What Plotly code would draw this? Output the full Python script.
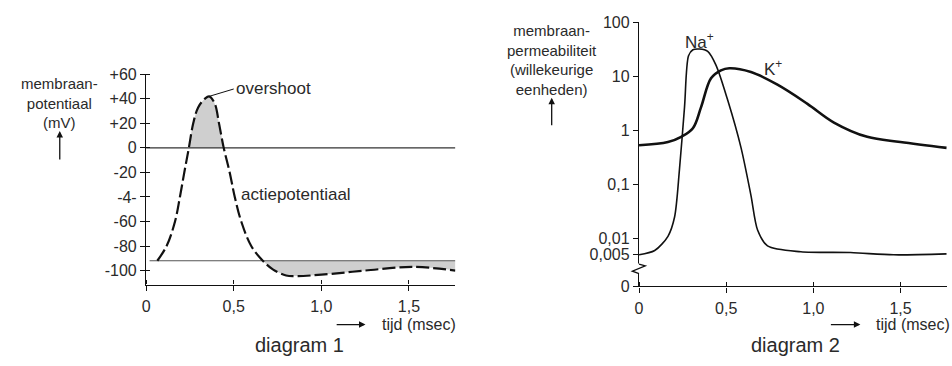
import numpy as np
import plotly.graph_objects as go

# ---------------- data ----------------
# diagram 1: membrane potential (mV) vs time (msec)
T1 = [0.064, 0.117, 0.165, 0.193, 0.218, 0.244, 0.269, 0.297, 0.335, 0.36, 0.392, 0.416,
      0.443, 0.477, 0.506, 0.543, 0.6, 0.666, 0.723, 0.799, 0.856, 1.0, 1.25, 1.52, 1.765]
V1 = [-92, -80, -60, -40, -20, 0, 20, 33, 40, 42, 36, 20,
      0, -20, -40, -60, -80, -92, -99, -104, -104.5, -103.4, -100, -97, -100]
REST = -92
ZERO = 0
Y1_TICKS = [60, 40, 20, 0, -20, -40, -60, -80, -100]
Y1_TEXT = ["+60", "+40", "+20", "0", "-20", "-4-", "-60", "-80", "-100"]

# diagram 2: membrane permeability (arbitrary units, log) vs time
T_NA = [0, 0.09, 0.166, 0.204, 0.232, 0.261, 0.284, 0.309, 0.347, 0.394, 0.442, 0.509,
        0.585, 0.642, 0.68, 0.737, 0.928, 1.213, 1.46, 1.765]
P_NA = [0.005, 0.006, 0.011, 0.025, 0.19, 2.7, 24, 31, 32, 29, 16, 3.6,
        0.48, 0.063, 0.0144, 0.0073, 0.0057, 0.0055, 0.005, 0.0052]
T_K = [0, 0.166, 0.242, 0.309, 0.356, 0.413, 0.47, 0.518, 0.642, 0.794, 0.966, 1.118,
       1.309, 1.499, 1.765]
P_K = [0.53, 0.61, 0.76, 1.1, 2.7, 9.2, 12.9, 14.1, 12.0, 7.0, 3.1, 1.4, 0.76, 0.61, 0.475]
Y2_ZERO_POS = 0.0013  # position of the "0" tick below the axis break
Y2_TICKS = [Y2_ZERO_POS, 0.005, 0.01, 0.1, 1, 10, 100]
Y2_TEXT = ["0", "0,005", "0,01", "0,1", "1", "10", "100"]

X_TICKS = [0, 0.5, 1.0, 1.5]
X_TEXT = ["0", "0,5", "1,0", "1,5"]
X_MAX = 1.765

# ---------------- figure ----------------
W, H = 952, 366
FONT = "Liberation Sans, Arial, sans-serif"
TXT = "#2a2a2a"
LINE = "#111111"


def px(x):
    return x / W


def py(y):
    return 1 - y / H


fig = go.Figure()

t1 = np.array(T1)
v1 = np.array(V1)

# overshoot fill (curve above 0)
m_over = v1 >= ZERO
fig.add_trace(go.Scatter(x=t1[m_over], y=v1[m_over], mode="lines", line=dict(width=0, shape="spline"),
                         fill="tozeroy", fillcolor="#cfcfcf", hoverinfo="skip", showlegend=False,
                         xaxis="x", yaxis="y"))
# hyperpolarisation fill (curve below resting level after the spike)
m_hyp = (t1 >= 0.6) & (v1 <= REST)
fig.add_trace(go.Scatter(x=t1[m_hyp], y=[REST] * int(m_hyp.sum()), mode="lines", line=dict(width=0),
                         hoverinfo="skip", showlegend=False, xaxis="x", yaxis="y"))
fig.add_trace(go.Scatter(x=t1[m_hyp], y=v1[m_hyp], mode="lines", line=dict(width=0, shape="spline"),
                         fill="tonexty", fillcolor="#cfcfcf", hoverinfo="skip", showlegend=False,
                         xaxis="x", yaxis="y"))
# reference lines
fig.add_trace(go.Scatter(x=[0, X_MAX], y=[ZERO, ZERO], mode="lines", line=dict(color="#333", width=1.2),
                         hoverinfo="skip", showlegend=False, xaxis="x", yaxis="y"))
fig.add_trace(go.Scatter(x=[0.02, X_MAX], y=[REST, REST], mode="lines", line=dict(color="#555", width=1.2),
                         hoverinfo="skip", showlegend=False, xaxis="x", yaxis="y"))
# action potential
fig.add_trace(go.Scatter(x=T1, y=V1, mode="lines",
                         line=dict(color=LINE, width=2.2, dash="13px,4px", shape="spline", smoothing=1.0),
                         showlegend=False, xaxis="x", yaxis="y"))

# diagram 2 curves
fig.add_trace(go.Scatter(x=T_NA, y=P_NA, mode="lines",
                         line=dict(color=LINE, width=1.6, shape="spline", smoothing=0.8),
                         showlegend=False, xaxis="x2", yaxis="y2"))
fig.add_trace(go.Scatter(x=T_K, y=P_K, mode="lines",
                         line=dict(color=LINE, width=2.6, shape="spline", smoothing=1.0),
                         showlegend=False, xaxis="x2", yaxis="y2"))

tickfont = dict(family=FONT, size=16, color=TXT)
ax_common = dict(showgrid=False, zeroline=False, showline=True, linecolor=LINE, linewidth=1.4,
                 ticks="outside", tickcolor=LINE, tickwidth=1.4, ticklen=5, tickfont=tickfont,
                 tickmode="array")

fig.update_layout(
    width=W, height=H, margin=dict(l=0, r=0, t=0, b=0),
    paper_bgcolor="white", plot_bgcolor="white", showlegend=False,
    xaxis=dict(domain=[px(142.7), px(453.3)], range=[0, X_MAX], anchor="y",
               tickvals=X_TICKS, ticktext=X_TEXT, ticklabelstandoff=2,
               minor=dict(ticks="inside", tickvals=X_TICKS, ticklen=4, tickcolor=LINE, tickwidth=1.4),
               **ax_common),
    yaxis=dict(domain=[py(290), py(69.5)], range=[-111.4, 60], anchor="x",
               tickvals=Y1_TICKS, ticktext=Y1_TEXT,
               minor=dict(ticks="inside", tickvals=Y1_TICKS, ticklen=4, tickcolor=LINE, tickwidth=1.4),
               **ax_common),
    xaxis2=dict(domain=[px(637.7), px(946.7)], range=[0, X_MAX], anchor="y2",
                tickvals=X_TICKS, ticktext=X_TEXT, ticklabelstandoff=2,
                minor=dict(ticks="inside", tickvals=X_TICKS, ticklen=4, tickcolor=LINE, tickwidth=1.4),
                **ax_common),
    yaxis2=dict(domain=[py(292), py(15)], type="log", range=[np.log10(Y2_ZERO_POS), 2], anchor="x2",
                tickvals=Y2_TICKS, ticktext=Y2_TEXT, **ax_common),
)

# axis break (zigzag) on diagram 2 y axis
fig.add_shape(type="rect", xref="paper", yref="paper", x0=px(633), x1=px(642), y0=py(279), y1=py(268),
              fillcolor="white", line=dict(width=0), layer="above")
zz = [(637.7, 268.5), (644, 270.5), (631, 276), (637.7, 278.5)]
path = "M " + " L ".join(f"{px(a):.5f},{py(b):.5f}" for a, b in zz)
fig.add_shape(type="path", xref="paper", yref="paper", path=path, line=dict(color=LINE, width=1.3),
              layer="above")

afont = dict(family=FONT, size=17, color=TXT)


def label(text, x, y, xanchor="center", size=17):
    fig.add_annotation(text=text, x=x, y=y, xref="paper", yref="paper", showarrow=False,
                       xanchor=xanchor, yanchor="middle", borderpad=0,
                       font=dict(family=FONT, size=size, color=TXT))


def arrow(x_head, y_head, dx, dy):
    fig.add_annotation(x=px(x_head), y=py(y_head), xref="paper", yref="paper", ax=dx, ay=dy,
                       axref="pixel", ayref="pixel", text="", showarrow=True, arrowhead=2,
                       arrowsize=1.0, arrowwidth=1.3, arrowcolor=LINE)


# y-axis titles
label("membraan-<br>potentiaal<br>(mV)", px(56), py(99.5), size=15)
arrow(56, 129, 0, 30)

label("membraan-<br>permeabiliteit<br>(willekeurige<br>eenheden)", px(550), py(55), size=15)
arrow(550, 94, 0, 29)

# x-axis titles
for (x0, x1, xr, y) in [(332.7, 363, 455, 332), (829, 860, 951, 332)]:
    arrow(x1, y, -(x1 - x0), 0)
    label("tijd (msec)", px(xr), py(y), xanchor="right", size=16)

label("diagram 1", px(296.7), py(353), size=20)
label("diagram 2", px(795), py(353), size=20)

# curve labels
i_peak = int(np.argmax(v1))
fig.add_annotation(x=T1[i_peak], y=V1[i_peak], xref="x", yref="y", text="overshoot",
                   ax=0.5, ay=48, axref="x", ayref="y", xanchor="left", showarrow=True, arrowhead=0,
                   arrowwidth=1, arrowcolor=LINE, font=afont, standoff=1)
fig.add_annotation(x=0.53, y=-38, xref="x", yref="y", text="actiepotentiaal", showarrow=False,
                   xanchor="left", font=afont)
fig.add_annotation(x=0.345, y=np.log10(46), xref="x2", yref="y2", text="Na<sup>+</sup>", showarrow=False,
                   font=afont)
fig.add_annotation(x=0.77, y=np.log10(14), xref="x2", yref="y2", text="K<sup>+</sup>", showarrow=False,
                   font=afont)

fig.write_html("out.html")
